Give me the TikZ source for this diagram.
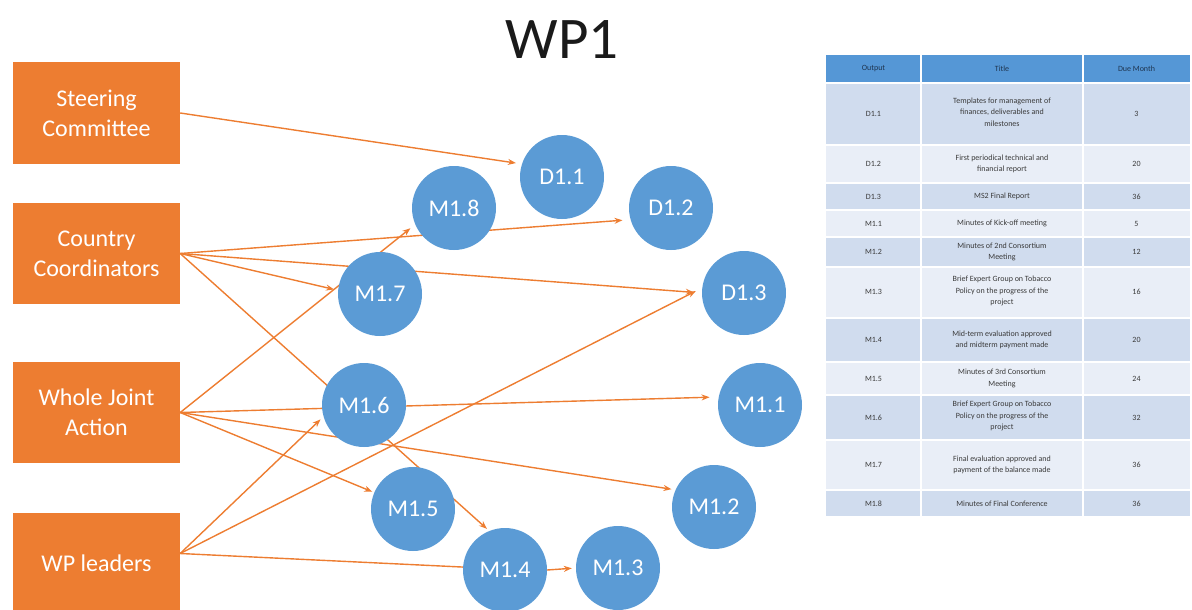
\documentclass[tikz,border=0pt]{standalone}
\usepackage{fontspec}
\setmainfont{Carlito}
\usetikzlibrary{arrows.meta,backgrounds,calc}
\definecolor{orng}{HTML}{ED7D31}
\definecolor{blu}{HTML}{5B9BD5}
\definecolor{hdr}{HTML}{5597D6}
\definecolor{bandA}{HTML}{D0DCEE}
\definecolor{bandB}{HTML}{E9EEF7}
\definecolor{ttl}{HTML}{1A1A1A}
\definecolor{tbltxt}{HTML}{3A3A3A}
\definecolor{hdrtxt}{HTML}{1F3550}
\tikzset{
  actor/.style={rectangle, fill=orng, text=white, minimum width=167pt, minimum height=101pt, align=center, inner sep=0pt, font=\fontsize{24}{30}\selectfont},
  outp/.style={circle, fill=blu, text=white, minimum size=84pt, inner sep=0pt, font=\fontsize{24}{28}\selectfont},
  arr/.style={draw=orng, line width=1.4pt, -{Stealth[length=8pt,width=6pt]}},
  cell/.style={align=center, text=tbltxt, font=\fontsize{8}{11.5}\selectfont, inner sep=0pt},
  hcell/.style={cell, text=hdrtxt},
  sep/.style={draw=white, line width=1.5pt}
}
\begin{document}
\begin{tikzpicture}[x=1pt,y=-1pt]
\useasboundingbox (0,0) rectangle (1192,610);
% title
\node[font=\fontsize{59}{59}\selectfont, text=ttl] (title) at (562,40) {WP1};
% actors
\node[actor] (sc) at (96.5,113) {Steering\\Committee};
\node[actor] (cc) at (96.5,253.5) {Country\\Coordinators};
\node[actor] (wja) at (96.5,412.5) {Whole Joint\\Action};
\node[actor] (wp) at (96.5,563.5) {WP leaders};
\coordinate (wpo) at ([yshift=10pt]wp.east);
% outputs
\node[outp] (d11) at (562,177) {D1.1};
\node[outp] (m18) at (454,208) {M1.8};
\node[outp] (d12) at (671,208) {D1.2};
\node[outp] (m17) at (380,294) {M1.7};
\node[outp] (d13) at (744,293) {D1.3};
\node[outp] (m16) at (364,405) {M1.6};
\node[outp] (m11) at (760,405) {M1.1};
\node[outp] (m15) at (413,509) {M1.5};
\node[outp] (m12) at (714,507) {M1.2};
\node[outp] (m14) at (505,570) {M1.4};
\node[outp] (m13) at (618,568) {M1.3};
% connectors
\begin{pgfonlayer}{background}
\draw[arr, shorten >=6pt] (sc.east) -- (d11.162);
\draw[arr, shorten >=8pt] (cc.east) -- (d12.196);
\draw[arr, shorten >=8pt] (cc.east) -- (d13.180);
\draw[arr, shorten >=4pt] (cc.east) -- (m17.175);
\draw[arr, shorten >=3pt] (cc.east) -- (m14.112);
\draw[arr, shorten >=6pt] (wja.east) -- (m18.203);
\draw[arr, shorten >=9pt] (wja.east) -- (m11.169);
\draw[arr, shorten >=4pt] (wja.east) -- (m12.156);
\draw[arr, shorten >=2pt] (wja.east) -- (m15.157);
\draw[arr, shorten >=4pt] (wpo) -- (m16.196);
\draw[arr, shorten >=7pt] (wpo) -- (d13.173);
\draw[arr, shorten >=-10pt] (wpo) -- (m14.176);
\draw[arr, shorten >=4pt] (m14.east) -- (m13.west);
\end{pgfonlayer}
% table background
\fill[hdr] (826,55) rectangle (1190,83);
\fill[bandA] (826,83) rectangle (1190,145);
\fill[bandB] (826,145) rectangle (1190,183);
\fill[bandA] (826,183) rectangle (1190,210);
\fill[bandB] (826,210) rectangle (1190,237);
\fill[bandA] (826,237) rectangle (1190,267);
\fill[bandB] (826,267) rectangle (1190,318);
\fill[bandA] (826,318) rectangle (1190,362);
\fill[bandB] (826,362) rectangle (1190,395);
\fill[bandA] (826,395) rectangle (1190,440);
\fill[bandB] (826,440) rectangle (1190,490);
\fill[bandA] (826,490) rectangle (1190,516);
\foreach \yy in {83,145,183,210,237,267,318,362,395,440,490} {\draw[sep] (826,\yy) -- (1190,\yy);}
\draw[sep] (921,55) -- (921,516);
\draw[sep] (1083,55) -- (1083,516);
% table text
\node[hcell] (h1) at (873.5,69) {Output};
\node[hcell] (h2) at (1002,69) {Title};
\node[hcell] (h3) at (1136.5,69) {Due Month};
\node[cell] (o1) at (873.5,114) {D1.1};
\node[cell] (t1) at (1002,112) {Templates for management of\\finances, deliverables and\\milestones};
\node[cell] (u1) at (1136.5,114) {3};
\node[cell] (o2) at (873.5,164) {D1.2};
\node[cell] (t2) at (1002,164) {First periodical technical and\\financial report};
\node[cell] (u2) at (1136.5,164) {20};
\node[cell] (o3) at (873.5,196.5) {D1.3};
\node[cell] (t3) at (1002,196.5) {MS2 Final Report};
\node[cell] (u3) at (1136.5,196.5) {36};
\node[cell] (o4) at (873.5,223.5) {M1.1};
\node[cell] (t4) at (1002,223.5) {Minutes of Kick-off meeting};
\node[cell] (u4) at (1136.5,223.5) {5};
\node[cell] (o5) at (873.5,252) {M1.2};
\node[cell] (t5) at (1002,252) {Minutes of 2nd Consortium\\Meeting};
\node[cell] (u5) at (1136.5,252) {12};
\node[cell] (o6) at (873.5,292) {M1.3};
\node[cell] (t6) at (1002,291) {Brief Expert Group on Tobacco\\Policy on the progress of the\\project};
\node[cell] (u6) at (1136.5,292) {16};
\node[cell] (o7) at (873.5,340) {M1.4};
\node[cell] (t7) at (1002,340) {Mid-term evaluation approved\\and midterm payment made};
\node[cell] (u7) at (1136.5,340) {20};
\node[cell] (o8) at (873.5,378.5) {M1.5};
\node[cell] (t8) at (1002,378.5) {Minutes of 3rd Consortium\\Meeting};
\node[cell] (u8) at (1136.5,378.5) {24};
\node[cell] (o9) at (873.5,417.5) {M1.6};
\node[cell] (t9) at (1002,416) {Brief Expert Group on Tobacco\\Policy on the progress of the\\project};
\node[cell] (u9) at (1136.5,417.5) {32};
\node[cell] (o10) at (873.5,465) {M1.7};
\node[cell] (t10) at (1002,465) {Final evaluation approved and\\payment of the balance made};
\node[cell] (u10) at (1136.5,465) {36};
\node[cell] (o11) at (873.5,504) {M1.8};
\node[cell] (t11) at (1002,504) {Minutes of Final Conference};
\node[cell] (u11) at (1136.5,504) {36};
\end{tikzpicture}
\end{document}
